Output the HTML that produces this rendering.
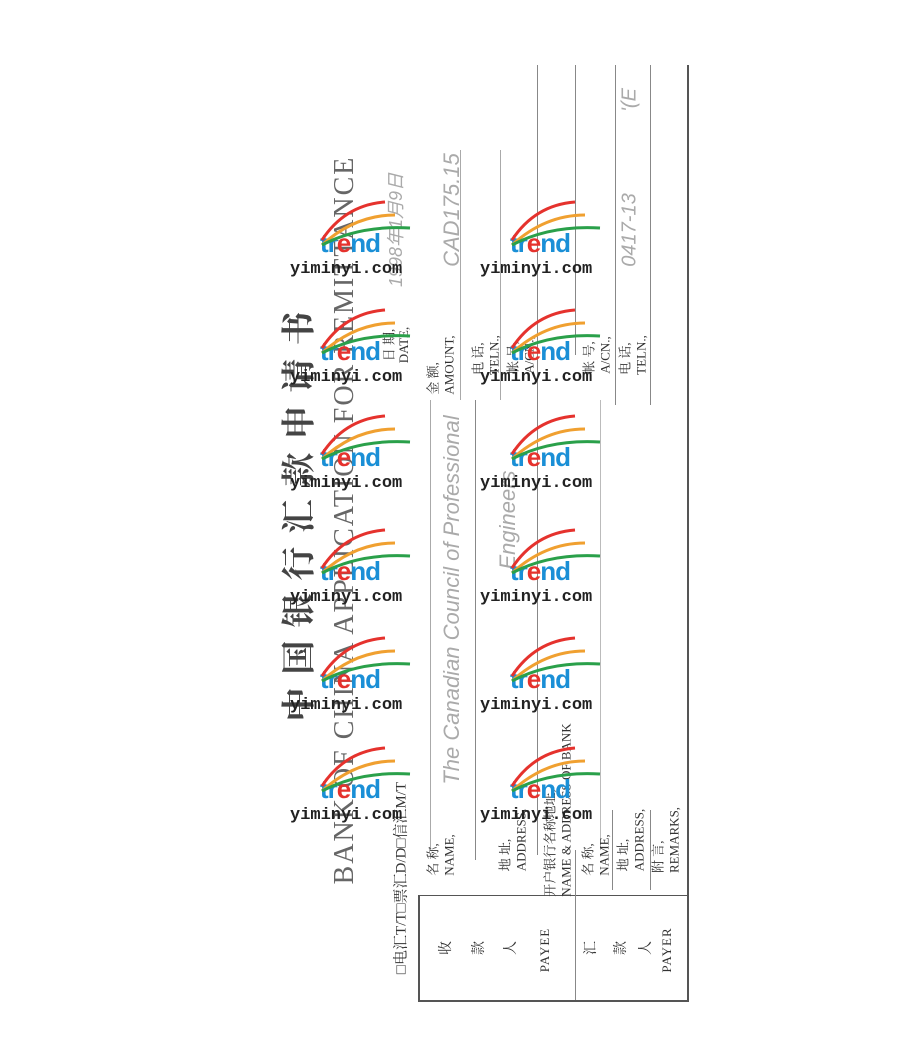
<!DOCTYPE html>
<html><head><meta charset="utf-8"><style>
body{margin:0;width:908px;height:1048px;background:#fff;position:relative;overflow:hidden;font-family:"Liberation Serif","Noto Serif CJK SC",serif;color:#333}
.r{position:absolute;transform:translate(-50%,-50%) rotate(-90deg);white-space:nowrap}
.l{position:absolute;background:#555}
.wm{position:absolute;width:130px;height:80px}
.wm .t{position:absolute;left:30px;top:18px;font:bold 26px "Liberation Sans",sans-serif;color:#1a8fd6;letter-spacing:-1px}
.wm .t b{color:#e5322d}
.wm .u{position:absolute;left:0;top:50px;font:bold 17px "Liberation Mono",monospace;color:#222}
.hw{color:#aaa;font-family:"Liberation Sans",sans-serif;font-style:italic}
</style></head><body>
<div class="l" style="left:687px;top:65px;width:2px;height:937px"></div>
<div class="l" style="left:418px;top:895px;width:2px;height:107px"></div>
<div class="l" style="left:418px;top:1000px;width:271px;height:2px"></div>
<div class="l" style="left:418px;top:895px;width:270px;height:1px"></div>
<div class="l" style="left:575px;top:850px;width:1px;height:150px;background:#888"></div>
<div class="l" style="left:475px;top:400px;width:1px;height:460px;background:#888"></div>
<div class="l" style="left:537px;top:65px;width:1px;height:790px;background:#888"></div>
<div class="l" style="left:575px;top:65px;width:1px;height:290px;background:#888"></div>
<div class="l" style="left:615px;top:65px;width:1px;height:340px;background:#888"></div>
<div class="l" style="left:650px;top:65px;width:1px;height:340px;background:#888"></div>
<div class="l" style="left:430px;top:400px;width:1px;height:450px;background:#aaa"></div>
<div class="l" style="left:460px;top:150px;width:1px;height:250px;background:#aaa"></div>
<div class="l" style="left:500px;top:150px;width:1px;height:250px;background:#aaa"></div>
<div class="l" style="left:600px;top:400px;width:1px;height:450px;background:#bbb"></div>
<div class="l" style="left:612px;top:810px;width:1px;height:80px;background:#888"></div>
<div class="l" style="left:650px;top:810px;width:1px;height:80px;background:#888"></div>

<div class="r" style="left:296px;top:510px;font-size:34px;letter-spacing:13px;font-weight:bold;color:#444">中国银行汇款申请书</div>
<div class="r" style="left:345px;top:520px;font-size:28px;letter-spacing:2px;color:#666">BANK OF CHINA APPLICATION FOR REMITTANCE</div>
<div class="r" style="left:400px;top:878px;font-size:15px">□电汇T/T□票汇D/D□信汇M/T</div>
<div class="r" style="left:388px;top:345px;font-size:13px">日 期,</div>
<div class="r" style="left:404px;top:345px;font-size:13px">DATE,</div>
<div class="r hw" style="left:395px;top:230px;font-size:18px">1998年1月9日</div>

<div class="r" style="left:445px;top:948px;font-size:14px">收</div>
<div class="r" style="left:478px;top:948px;font-size:14px">款</div>
<div class="r" style="left:510px;top:948px;font-size:14px">人</div>
<div class="r" style="left:545px;top:950px;font-size:13px;letter-spacing:1px">PAYEE</div>
<div class="r" style="left:590px;top:948px;font-size:14px">汇</div>
<div class="r" style="left:620px;top:948px;font-size:14px">款</div>
<div class="r" style="left:645px;top:948px;font-size:14px">人</div>
<div class="r" style="left:667px;top:950px;font-size:13px;letter-spacing:1px">PAYER</div>

<div class="r" style="left:440px;top:855px;font-size:13px">名 称,<br>NAME,</div>
<div class="r" style="left:512px;top:840px;font-size:13px">地 址,<br>ADDRESS,</div>
<div class="r" style="left:557px;top:810px;font-size:13px">开户银行名称地址,<br>NAME &amp; ADDRESS OF BANK</div>
<div class="r" style="left:595px;top:855px;font-size:13px">名 称,<br>NAME,</div>
<div class="r" style="left:630px;top:840px;font-size:13px">地 址,<br>ADDRESS,</div>
<div class="r" style="left:665px;top:840px;font-size:13px">附 言,<br>REMARKS,</div>
<div class="r" style="left:440px;top:365px;font-size:13px">金 额,<br>AMOUNT,</div>
<div class="r" style="left:485px;top:355px;font-size:13px">电 话,<br>TELN.,</div>
<div class="r" style="left:520px;top:355px;font-size:13px">帐 号,<br>A/CN.,</div>
<div class="r" style="left:596px;top:355px;font-size:13px">帐 号,<br>A/CN.,</div>
<div class="r" style="left:632px;top:355px;font-size:13px">电 话,<br>TELN.,</div>

<div class="r hw" style="left:452px;top:600px;font-size:22px">The Canadian Council of Professional</div>
<div class="r hw" style="left:508px;top:520px;font-size:22px">Engineers</div>
<div class="r hw" style="left:452px;top:210px;font-size:22px">CAD175.15</div>
<div class="r hw" style="left:630px;top:230px;font-size:20px">0417-13</div>
<div class="r hw" style="left:630px;top:100px;font-size:20px">'(E</div>

<div class="wm" style="left:290px;top:210px"><div class="t">tr<b>e</b>nd</div><div class="u">yiminyi.com</div></div>
<div class="wm" style="left:480px;top:210px"><div class="t">tr<b>e</b>nd</div><div class="u">yiminyi.com</div></div>
<div class="wm" style="left:290px;top:318px"><div class="t">tr<b>e</b>nd</div><div class="u">yiminyi.com</div></div>
<div class="wm" style="left:480px;top:318px"><div class="t">tr<b>e</b>nd</div><div class="u">yiminyi.com</div></div>
<div class="wm" style="left:290px;top:424px"><div class="t">tr<b>e</b>nd</div><div class="u">yiminyi.com</div></div>
<div class="wm" style="left:480px;top:424px"><div class="t">tr<b>e</b>nd</div><div class="u">yiminyi.com</div></div>
<div class="wm" style="left:290px;top:538px"><div class="t">tr<b>e</b>nd</div><div class="u">yiminyi.com</div></div>
<div class="wm" style="left:480px;top:538px"><div class="t">tr<b>e</b>nd</div><div class="u">yiminyi.com</div></div>
<div class="wm" style="left:290px;top:646px"><div class="t">tr<b>e</b>nd</div><div class="u">yiminyi.com</div></div>
<div class="wm" style="left:480px;top:646px"><div class="t">tr<b>e</b>nd</div><div class="u">yiminyi.com</div></div>
<div class="wm" style="left:290px;top:756px"><div class="t">tr<b>e</b>nd</div><div class="u">yiminyi.com</div></div>
<div class="wm" style="left:480px;top:756px"><div class="t">tr<b>e</b>nd</div><div class="u">yiminyi.com</div></div>
<svg width="908" height="1048" style="position:absolute;left:0;top:0" fill="none" stroke-width="3">
<g id="a"><path d="M322 240 Q345 205 385 202" stroke="#e5322d"/><path d="M322 245 Q355 215 395 215" stroke="#f0a030"/><path d="M322 245 Q360 225 410 228" stroke="#2aa04a"/></g>
<use href="#a" x="190"/><use href="#a" y="108"/><use href="#a" x="190" y="108"/><use href="#a" y="214"/><use href="#a" x="190" y="214"/><use href="#a" y="328"/><use href="#a" x="190" y="328"/><use href="#a" y="436"/><use href="#a" x="190" y="436"/><use href="#a" y="546"/><use href="#a" x="190" y="546"/>
</svg>
</body></html>
